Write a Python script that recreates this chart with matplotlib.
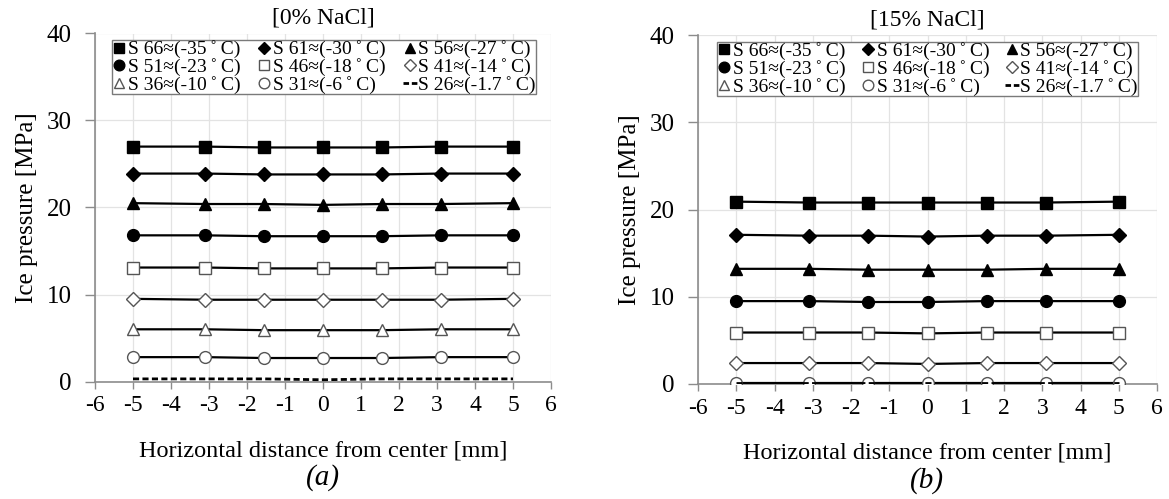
import matplotlib
matplotlib.use("Agg")
import matplotlib.pyplot as plt
from matplotlib.lines import Line2D

plt.rcParams['font.family'] = ['Liberation Serif', 'DejaVu Serif']
plt.rcParams['axes.unicode_minus'] = False

# Measurement positions across the sample [mm]
positions = [-5, -3.1, -1.55, 0, 1.55, 3.1, 5]

series_labels = [
    "S 66≈(-35\u2009˚\u2009C)", "S 61≈(-30\u2009˚\u2009C)", "S 56≈(-27\u2009˚\u2009C)",
    "S 51≈(-23\u2009˚\u2009C)", "S 46≈(-18\u2009˚\u2009C)", "S 41≈(-14\u2009˚\u2009C)",
    "S 36≈(-10\u2009˚\u2009C)", "S 31≈(-6\u2009˚\u2009C)", "S 26≈(-1.7\u2009˚\u2009C)",
]

# Ice pressure [MPa], 0 % NaCl
p_0 = [
    [27.0, 27.0, 26.9, 26.9, 26.9, 27.0, 27.0],
    [23.9, 23.9, 23.8, 23.8, 23.8, 23.9, 23.9],
    [20.5, 20.4, 20.4, 20.3, 20.4, 20.4, 20.5],
    [16.8, 16.8, 16.7, 16.7, 16.7, 16.8, 16.8],
    [13.1, 13.1, 13.0, 13.0, 13.0, 13.1, 13.1],
    [9.5, 9.4, 9.4, 9.4, 9.4, 9.4, 9.5],
    [6.0, 6.0, 5.9, 5.9, 5.9, 6.0, 6.0],
    [2.8, 2.8, 2.7, 2.7, 2.7, 2.8, 2.8],
    [0.3, 0.3, 0.3, 0.2, 0.3, 0.3, 0.3],
]

# Ice pressure [MPa], 15 % NaCl
p_15 = [
    [20.9, 20.8, 20.8, 20.8, 20.8, 20.8, 20.9],
    [17.1, 17.0, 17.0, 16.9, 17.0, 17.0, 17.1],
    [13.2, 13.2, 13.1, 13.1, 13.1, 13.2, 13.2],
    [9.5, 9.5, 9.4, 9.4, 9.5, 9.5, 9.5],
    [5.9, 5.9, 5.9, 5.8, 5.9, 5.9, 5.9],
    [2.4, 2.4, 2.4, 2.3, 2.4, 2.4, 2.4],
    [0.0, 0.0, 0.0, 0.0, 0.0, 0.0, 0.0],
    [0.1, 0.1, 0.1, 0.1, 0.1, 0.1, 0.1],
    [0.1, 0.1, 0.1, 0.1, 0.1, 0.1, 0.1],
]

titles = ["[0% NaCl]", "[15% NaCl]"]
captions = ["(a)", "(b)"]

# marker, filled?, marker size
styles = [
    ("s", True, 8), ("D", True, 7), ("^", True, 8),
    ("o", True, 8.5), ("s", False, 8), ("D", False, 7),
    ("^", False, 8), ("o", False, 8.5), (None, None, 0),
]

# legend is filled row by row (3 entries per row)
row_order = [0, 3, 6, 1, 4, 7, 2, 5, 8]

fig = plt.figure(figsize=(11.69, 4.99), dpi=100)
axes_rects = [
    [95 / 1169, 117.5 / 499, 456 / 1169, 348 / 499],
    [698 / 1169, 115 / 499, 459 / 1169, 349 / 499],
]
legend_boxes = [
    (17 / 456, 0.98, 424 / 456),
    (19 / 459, 0.98, 421 / 459),
]

grey_edge = "#555555"

for data, title, cap, rect, lb in zip([p_0, p_15], titles, captions, axes_rects, legend_boxes):
    ax = fig.add_axes(rect)
    handles = []
    for vals, lab, (mk, filled, ms) in zip(data, series_labels, styles):
        if mk is None:
            ax.plot(positions, vals, color="black", lw=2.0, ls=(0, (2.2, 1.2)), zorder=3)
            h = Line2D([], [], color="black", lw=2.0, ls=(0, (2.0, 1.0)))
        else:
            fc = "black" if filled else "white"
            ec = "black" if filled else grey_edge
            ax.plot(positions, vals, color="black", lw=1.6, marker=mk, ms=ms,
                    mfc=fc, mec=ec, mew=1.0, zorder=3)
            h = Line2D([], [], ls="none", marker=mk, ms=ms * 0.9, mfc=fc, mec=ec, mew=1.0)
        handles.append(h)

    ax.set_xlim(-6, 6)
    ax.set_ylim(0, 40)
    ax.set_xticks(range(-6, 7))
    ax.set_yticks(range(0, 41, 10))
    ax.grid(True, color="#e3e3e3", lw=0.9, zorder=0)
    ax.set_axisbelow(True)
    for s in ("top", "right"):
        ax.spines[s].set_visible(False)
    for s in ("left", "bottom"):
        ax.spines[s].set_color("#8c8c8c")
        ax.spines[s].set_linewidth(1.2)
    ax.tick_params(axis="y", direction="out", length=7, width=1.0, color="#8c8c8c",
                   labelsize=18, pad=10)
    ax.tick_params(axis="x", direction="out", length=5, width=1.0, color="#8c8c8c",
                   labelsize=17, pad=5)
    ax.set_ylabel("Ice pressure [MPa]", fontsize=18, labelpad=6)
    ax.set_xlabel("Horizontal distance from center [mm]", fontsize=17.5, labelpad=17)
    ax.set_title(title, fontsize=17, pad=7)
    ax.text(0.5, -0.277, cap, transform=ax.transAxes, ha="center", va="center",
            fontsize=21, style="italic")

    leg = ax.legend([handles[i] for i in row_order], [series_labels[i] for i in row_order],
                    ncol=3, loc="upper left",
                    bbox_to_anchor=(lb[0], lb[1], lb[2], 0.0), mode="expand",
                    fontsize=14, frameon=True, fancybox=False, edgecolor="#7a7a7a",
                    framealpha=1, handlelength=0.7, handletextpad=0.1,
                    labelspacing=0.0, borderpad=0.0, columnspacing=0.4,
                    borderaxespad=0.0)
    leg.get_frame().set_linewidth(1.0)

fig.savefig("out.png", dpi=100)
